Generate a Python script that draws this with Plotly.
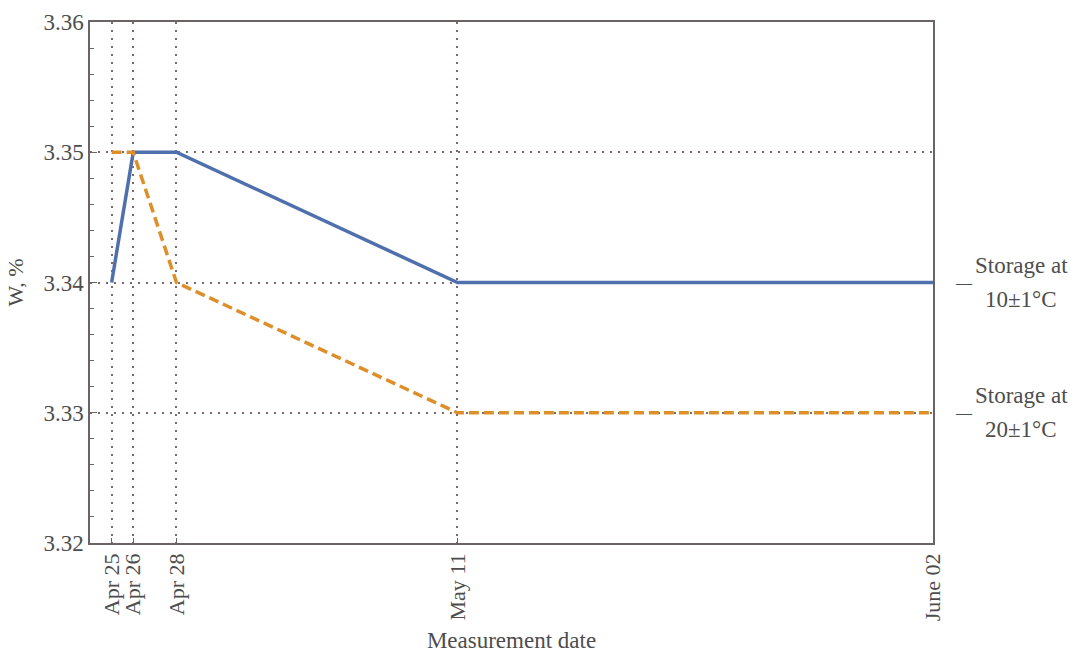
import plotly.graph_objects as go

# Measurement dates and moisture content (W, %) for the two storage regimes
dates = ["2021-04-25", "2021-04-26", "2021-04-28", "2021-05-11", "2021-06-02"]
date_labels = ["Apr 25", "Apr 26", "Apr 28", "May 11", "June 02"]
w_10c = [3.34, 3.35, 3.35, 3.34, 3.34]
w_20c = [3.35, 3.35, 3.34, 3.33, 3.33]
series_lines = [["Storage at", "10±1°C"], ["Storage at", "20±1°C"]]
y_ticks = [3.32, 3.33, 3.34, 3.35, 3.36]

FONT = "Liberation Serif"
TXT = "#4d4d4d"
AXIS = "#6b6464"
GRID = "#7a6a6a"

fig = go.Figure()
fig.add_trace(go.Scatter(x=dates, y=w_10c, mode="lines", name=" ".join(series_lines[0]),
                         line=dict(color="#4f70ad", width=3.5)))
fig.add_trace(go.Scatter(x=dates, y=w_20c, mode="lines", name=" ".join(series_lines[1]),
                         line=dict(color="#dd8f2a", width=3.5, dash="10px,5px")))

# Right-hand labels placed at each series' final value
for lines, vals in zip(series_lines, [w_10c, w_20c]):
    fig.add_annotation(x=1.0, xref="paper", y=vals[-1], yref="y",
                       text="—", showarrow=False, xanchor="left", xshift=20,
                       font=dict(family=FONT, size=16, color=TXT))
    for text, dy in zip(lines, [17, -17]):
        fig.add_annotation(x=1.0, xref="paper", y=vals[-1], yref="y",
                           text=text, showarrow=False, xanchor="center",
                           xshift=88, yshift=dy,
                           font=dict(family=FONT, size=23, color=TXT))

fig.update_layout(
    width=1073, height=654,
    margin=dict(l=90, r=140, t=22, b=111),
    paper_bgcolor="white", plot_bgcolor="white",
    showlegend=False,
    font=dict(family=FONT, color=TXT),
    xaxis=dict(
        type="date", range=["2021-04-24", "2021-06-02"],
        tickmode="array", tickvals=dates, ticktext=date_labels,
        tickangle=-90, tickfont=dict(size=22, color=TXT),
        ticks="inside", ticklen=5, tickcolor=AXIS,
        showgrid=True, gridcolor=GRID, griddash="1.5px,6.5px", gridwidth=1.5,
        showline=True, linecolor=AXIS, linewidth=1.5, mirror=True,
        zeroline=False, automargin=False,
        title=dict(text="Measurement date", font=dict(size=23, color=TXT), standoff=12),
    ),
    yaxis=dict(
        range=[3.32, 3.36], tickmode="array", tickvals=y_ticks,
        ticktext=[f"{v:.2f}" for v in y_ticks],
        tickfont=dict(size=23, color=TXT),
        ticks="inside", ticklen=7, tickcolor=AXIS,
        minor=dict(dtick=0.002, tick0=3.32, ticks="inside", ticklen=4,
                   tickcolor=AXIS, showgrid=False),
        showgrid=True, gridcolor=GRID, griddash="1.5px,6.5px", gridwidth=1.5,
        showline=True, linecolor=AXIS, linewidth=1.5, mirror=True,
        zeroline=False, automargin=False,
        title=dict(text="W, %", font=dict(size=22, color=TXT), standoff=14),
    ),
)

fig.write_html("out.html")
